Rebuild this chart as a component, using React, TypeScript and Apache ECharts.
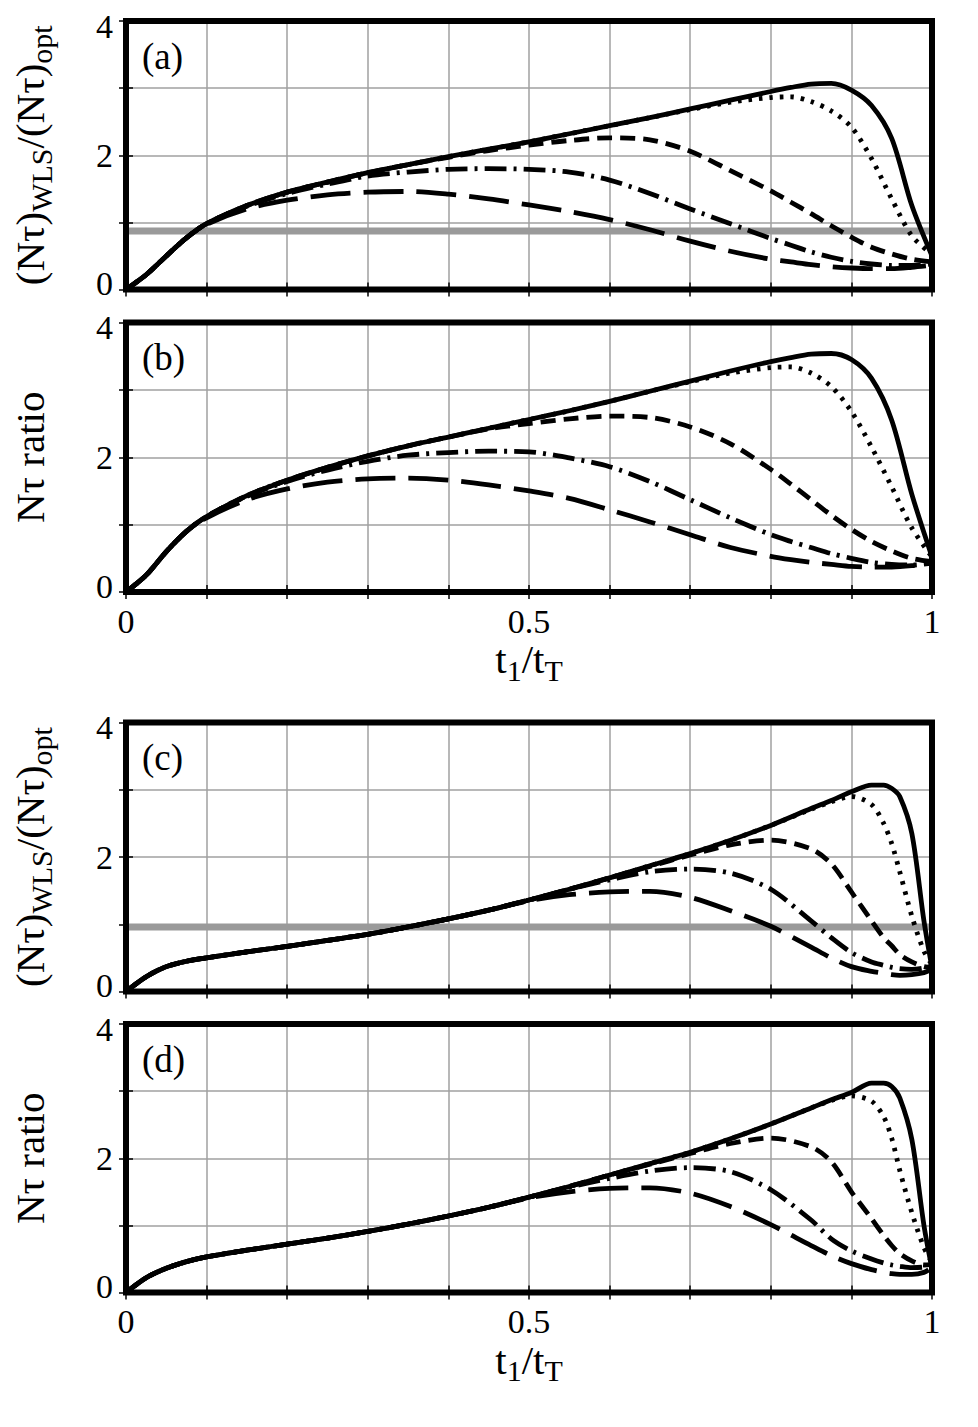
import React, { useEffect, useRef } from "react";
import * as echarts from "echarts";

const FONT = "'Liberation Serif', 'Times New Roman', serif";

// ---------- data ----------
const X_AB = [0, 0.025, 0.05, 0.075, 0.1, 0.15, 0.2, 0.25, 0.3, 0.35, 0.4, 0.45, 0.5, 0.55, 0.6, 0.65, 0.7, 0.75, 0.8, 0.825, 0.85, 0.875, 0.9, 0.925, 0.95, 0.975, 1];

const A_SOLID = [0, 0.22, 0.5, 0.77, 0.98, 1.25, 1.45, 1.6, 1.74, 1.86, 1.98, 2.09, 2.2, 2.32, 2.44, 2.56, 2.69, 2.82, 2.95, 3.01, 3.06, 3.07, 2.97, 2.74, 2.25, 1.25, 0.5];
const A_DOT = [0, 0.22, 0.5, 0.77, 0.98, 1.25, 1.45, 1.6, 1.74, 1.86, 1.98, 2.09, 2.2, 2.32, 2.44, 2.56, 2.68, 2.79, 2.86, 2.87, 2.8, 2.66, 2.42, 1.95, 1.35, 0.8, 0.52];
const A_DASH = [0, 0.22, 0.5, 0.77, 0.98, 1.25, 1.45, 1.6, 1.74, 1.86, 1.97, 2.07, 2.15, 2.22, 2.26, 2.23, 2.06, 1.77, 1.47, 1.3, 1.13, 0.95, 0.78, 0.63, 0.53, 0.45, 0.41];
const A_DASHDOT = [0, 0.22, 0.5, 0.77, 0.98, 1.24, 1.43, 1.57, 1.69, 1.75, 1.79, 1.8, 1.79, 1.75, 1.63, 1.43, 1.2, 0.98, 0.76, 0.66, 0.56, 0.48, 0.42, 0.38, 0.36, 0.36, 0.38];
const A_LDASH = [0, 0.22, 0.5, 0.77, 0.97, 1.2, 1.33, 1.41, 1.45, 1.46, 1.42, 1.35, 1.26, 1.16, 1.04, 0.89, 0.72, 0.57, 0.45, 0.41, 0.37, 0.34, 0.32, 0.31, 0.31, 0.33, 0.36];

const B_SOLID = [0, 0.25, 0.6, 0.9, 1.12, 1.43, 1.66, 1.85, 2.02, 2.17, 2.3, 2.43, 2.56, 2.69, 2.83, 2.98, 3.13, 3.28, 3.42, 3.48, 3.53, 3.54, 3.45, 3.17, 2.55, 1.45, 0.52];
const B_DOT = [0, 0.25, 0.6, 0.9, 1.12, 1.43, 1.66, 1.85, 2.02, 2.17, 2.3, 2.43, 2.56, 2.69, 2.83, 2.98, 3.12, 3.25, 3.33, 3.34, 3.25, 3.05, 2.68, 2.15, 1.56, 0.95, 0.52];
const B_DASH = [0, 0.25, 0.6, 0.9, 1.12, 1.43, 1.66, 1.85, 2.02, 2.17, 2.3, 2.42, 2.5, 2.57, 2.61, 2.59, 2.45, 2.2, 1.82, 1.6, 1.37, 1.14, 0.93, 0.75, 0.61, 0.5, 0.45];
const B_DASHDOT = [0, 0.25, 0.6, 0.9, 1.12, 1.42, 1.64, 1.81, 1.94, 2.03, 2.07, 2.09, 2.08, 1.99, 1.86, 1.64, 1.37, 1.1, 0.85, 0.75, 0.66, 0.57, 0.5, 0.44, 0.41, 0.4, 0.43];
const B_LDASH = [0, 0.25, 0.6, 0.9, 1.1, 1.37, 1.53, 1.63, 1.68, 1.69, 1.66, 1.59, 1.5, 1.39, 1.22, 1.04, 0.85, 0.66, 0.53, 0.48, 0.44, 0.41, 0.38, 0.37, 0.37, 0.39, 0.43];

const X_CD = [0, 0.025, 0.05, 0.075, 0.1, 0.15, 0.2, 0.25, 0.3, 0.35, 0.4, 0.45, 0.5, 0.55, 0.6, 0.65, 0.7, 0.75, 0.8, 0.85, 0.875, 0.9, 0.925, 0.94, 0.95, 0.96, 0.975, 0.99, 1];

const C_SOLID = [0, 0.22, 0.37, 0.45, 0.5, 0.59, 0.67, 0.76, 0.85, 0.96, 1.08, 1.21, 1.36, 1.52, 1.69, 1.87, 2.05, 2.25, 2.47, 2.72, 2.84, 2.97, 3.07, 3.07, 3.02, 2.9, 2.35, 1.05, 0.35];
const C_DOT = [0, 0.22, 0.37, 0.45, 0.5, 0.59, 0.67, 0.76, 0.85, 0.96, 1.08, 1.21, 1.36, 1.52, 1.69, 1.87, 2.05, 2.25, 2.47, 2.71, 2.82, 2.9, 2.78, 2.5, 2.2, 1.78, 1.12, 0.6, 0.4];
const C_DASH = [0, 0.22, 0.37, 0.45, 0.5, 0.59, 0.67, 0.76, 0.85, 0.96, 1.08, 1.21, 1.36, 1.52, 1.69, 1.86, 2.03, 2.18, 2.25, 2.12, 1.9, 1.48, 1.05, 0.8, 0.68, 0.55, 0.44, 0.37, 0.36];
const C_DASHDOT = [0, 0.22, 0.37, 0.45, 0.5, 0.59, 0.67, 0.76, 0.85, 0.96, 1.08, 1.21, 1.36, 1.52, 1.66, 1.78, 1.82, 1.76, 1.52, 1.05, 0.8, 0.58, 0.44, 0.39, 0.36, 0.34, 0.33, 0.35, 0.38];
const C_LDASH = [0, 0.22, 0.37, 0.45, 0.5, 0.59, 0.67, 0.76, 0.85, 0.96, 1.08, 1.21, 1.35, 1.44, 1.48, 1.49, 1.4, 1.2, 0.97, 0.66, 0.5, 0.37, 0.3, 0.27, 0.25, 0.24, 0.25, 0.28, 0.33];

const D_SOLID = [0, 0.22, 0.36, 0.46, 0.53, 0.63, 0.72, 0.81, 0.91, 1.02, 1.14, 1.27, 1.42, 1.58, 1.75, 1.92, 2.09, 2.29, 2.51, 2.75, 2.87, 2.98, 3.12, 3.12, 3.07, 2.9, 2.28, 1.0, 0.35];
const D_DOT = [0, 0.22, 0.36, 0.46, 0.53, 0.63, 0.72, 0.81, 0.91, 1.02, 1.14, 1.27, 1.42, 1.58, 1.75, 1.92, 2.09, 2.29, 2.51, 2.75, 2.86, 2.93, 2.85, 2.62, 2.3, 1.82, 1.19, 0.67, 0.45];
const D_DASH = [0, 0.22, 0.36, 0.46, 0.53, 0.63, 0.72, 0.81, 0.91, 1.02, 1.14, 1.27, 1.42, 1.58, 1.75, 1.91, 2.07, 2.22, 2.3, 2.17, 1.95, 1.5, 1.1, 0.85, 0.7, 0.58, 0.47, 0.41, 0.42];
const D_DASHDOT = [0, 0.22, 0.36, 0.46, 0.53, 0.63, 0.72, 0.81, 0.91, 1.02, 1.14, 1.27, 1.42, 1.57, 1.7, 1.81, 1.86, 1.8, 1.53, 1.08, 0.8, 0.62, 0.5, 0.44, 0.41, 0.39, 0.37, 0.38, 0.42];
const D_LDASH = [0, 0.22, 0.36, 0.46, 0.53, 0.63, 0.72, 0.81, 0.91, 1.02, 1.14, 1.27, 1.41, 1.5, 1.55, 1.56, 1.48, 1.28, 1.01, 0.7, 0.55, 0.43, 0.34, 0.3, 0.28, 0.27, 0.27, 0.3, 0.37];

const GRAY_A = 0.87;
const GRAY_C = 0.96;

const X_TICK_LABELS = [0, 0.5, 1];
const Y_TICK_LABELS = [0, 2, 4];
const PANEL_LABELS = ["(a)", "(b)", "(c)", "(d)"];
const Y_NAME_RATIO_WLS = "{m|(Nτ)}{s|WLS}{m|/(Nτ)}{s|opt}";
const Y_NAME_RATIO = "{m|Nτ ratio}";
const X_NAME = "{m|t}{s|1}{m|/t}{s|T}";

// ---------- layout ----------
const GRID_LEFT = 126;
const GRID_WIDTH = 806;
const GRID_BOXES = [
  { top: 21, height: 268.5 },
  { top: 322.5, height: 269.5 },
  { top: 722.5, height: 269 },
  { top: 1024, height: 268.5 },
];

const PANELS = [
  { x: X_AB, solid: A_SOLID, dot: A_DOT, dash: A_DASH, dashdot: A_DASHDOT, ldash: A_LDASH, gray: GRAY_A as number | null, yName: Y_NAME_RATIO_WLS, xLabels: false },
  { x: X_AB, solid: B_SOLID, dot: B_DOT, dash: B_DASH, dashdot: B_DASHDOT, ldash: B_LDASH, gray: null as number | null, yName: Y_NAME_RATIO, xLabels: true },
  { x: X_CD, solid: C_SOLID, dot: C_DOT, dash: C_DASH, dashdot: C_DASHDOT, ldash: C_LDASH, gray: GRAY_C as number | null, yName: Y_NAME_RATIO_WLS, xLabels: false },
  { x: X_CD, solid: D_SOLID, dot: D_DOT, dash: D_DASH, dashdot: D_DASHDOT, ldash: D_LDASH, gray: null as number | null, yName: Y_NAME_RATIO, xLabels: true },
];

const CURVE_STYLES: { key: "ldash" | "dashdot" | "dash" | "dot" | "solid"; type: any }[] = [
  { key: "ldash", type: [40, 13] },
  { key: "dashdot", type: [22, 7, 3, 7] },
  { key: "dash", type: [15, 8] },
  { key: "dot", type: [3.5, 7] },
  { key: "solid", type: "solid" },
];

const near = (a: number, b: number) => Math.abs(a - b) < 1e-6;

function buildOption() {
  const nameRich = {
    m: { fontFamily: FONT, fontSize: 41, lineHeight: 52, color: "#000" },
    s: { fontFamily: FONT, fontSize: 30, lineHeight: 30, verticalAlign: "bottom", color: "#000" },
  };
  const tickFont = { fontFamily: FONT, fontSize: 34, color: "#000" };
  const yRich = {
    n: { ...tickFont },
    t: { ...tickFont, padding: [10, 0, 0, 0] },
    b: { ...tickFont, padding: [0, 0, 12, 0] },
  };
  const tickStyle = { show: true, inside: true, length: 7, lineStyle: { color: "#000", width: 1.5 } };
  const grid: any[] = [];
  const xAxis: any[] = [];
  const yAxis: any[] = [];
  const series: any[] = [];
  const graphic: any[] = [];

  PANELS.forEach((p, i) => {
    const box = GRID_BOXES[i];
    grid.push({ left: GRID_LEFT, width: GRID_WIDTH, top: box.top, height: box.height, show: false, containLabel: false, outerBoundsMode: "none" });
    xAxis.push({
      type: "value", gridIndex: i, min: 0, max: 1, interval: 0.1, position: "bottom",
      axisLine: { show: false }, axisTick: tickStyle,
      splitLine: { show: true, lineStyle: { color: "#a0a0a0", width: 1.5 } },
      axisLabel: {
        show: p.xLabels, margin: 12, ...tickFont,
        showMinLabel: true, showMaxLabel: true,
        formatter: (v: number) => {
          const hit = X_TICK_LABELS.find((t) => near(t, v));
          return hit === undefined ? "" : String(hit);
        },
      },
      name: p.xLabels ? X_NAME : "", nameLocation: "middle", nameGap: 36,
      nameTextStyle: { fontFamily: FONT, fontSize: 41, color: "#000", rich: nameRich },
    });
    xAxis.push({
      type: "value", gridIndex: i, min: 0, max: 1, interval: 0.1, position: "top",
      axisLine: { show: false }, axisTick: tickStyle, splitLine: { show: false }, axisLabel: { show: false },
    });
    yAxis.push({
      type: "value", gridIndex: i, min: 0, max: 4, interval: 1, position: "left",
      axisLine: { show: false }, axisTick: tickStyle,
      splitLine: { show: true, lineStyle: { color: "#a0a0a0", width: 1.5 } },
      axisLabel: {
        show: true, margin: 13, ...tickFont, rich: yRich,
        showMinLabel: true, showMaxLabel: true,
        formatter: (v: number) => {
          const hit = Y_TICK_LABELS.find((t) => near(t, v));
          if (hit === undefined) return "";
          const key = hit === 4 ? "t" : hit === 0 ? "b" : "n";
          return "{" + key + "|" + hit + "}";
        },
      },
      name: p.yName, nameLocation: "middle", nameRotate: 90, nameGap: 70,
      nameTextStyle: { fontFamily: FONT, fontSize: 41, color: "#000", rich: nameRich },
    });
    yAxis.push({
      type: "value", gridIndex: i, min: 0, max: 4, interval: 1, position: "right",
      axisLine: { show: false }, axisTick: tickStyle, splitLine: { show: false }, axisLabel: { show: false },
    });

    if (p.gray !== null) {
      series.push({
        type: "line", xAxisIndex: 2 * i, yAxisIndex: 2 * i, silent: true,
        data: [[0, p.gray], [1, p.gray]], showSymbol: false, symbol: "none",
        lineStyle: { color: "#9a9a9a", width: 7 }, z: 2,
      });
    }
    CURVE_STYLES.forEach((cs) => {
      const ys = (p as any)[cs.key] as number[];
      series.push({
        type: "line", xAxisIndex: 2 * i, yAxisIndex: 2 * i, silent: true,
        data: p.x.map((x, k) => [x, ys[k]]), showSymbol: false, symbol: "none",
        smooth: 0.3,
        lineStyle: { color: "#000", width: 4.8, type: cs.type, cap: "butt", join: "round" },
        z: 3,
      });
    });

    graphic.push({
      type: "rect", z: 100, silent: true,
      shape: { x: GRID_LEFT, y: box.top, width: GRID_WIDTH, height: box.height },
      style: { fill: "transparent", stroke: "#000", lineWidth: 6 },
    });
    graphic.push({
      type: "text", z: 100, silent: true, x: 142, y: box.top + 35,
      style: { text: PANEL_LABELS[i], fontFamily: FONT, fontSize: 37, fill: "#000", align: "left", verticalAlign: "middle" },
    });
  });

  return { animation: false, backgroundColor: "#fff", grid, xAxis, yAxis, series, graphic };
}

export default function App() {
  const ref = useRef<HTMLDivElement>(null);
  useEffect(() => {
    if (!ref.current) return;
    const chart = echarts.init(ref.current, null, { renderer: "svg" });
    chart.setOption(buildOption() as any);
    return () => chart.dispose();
  }, []);
  return <div ref={ref} style={{ position: "absolute", left: 0, top: 0, width: 978, height: 1427 }} />;
}
